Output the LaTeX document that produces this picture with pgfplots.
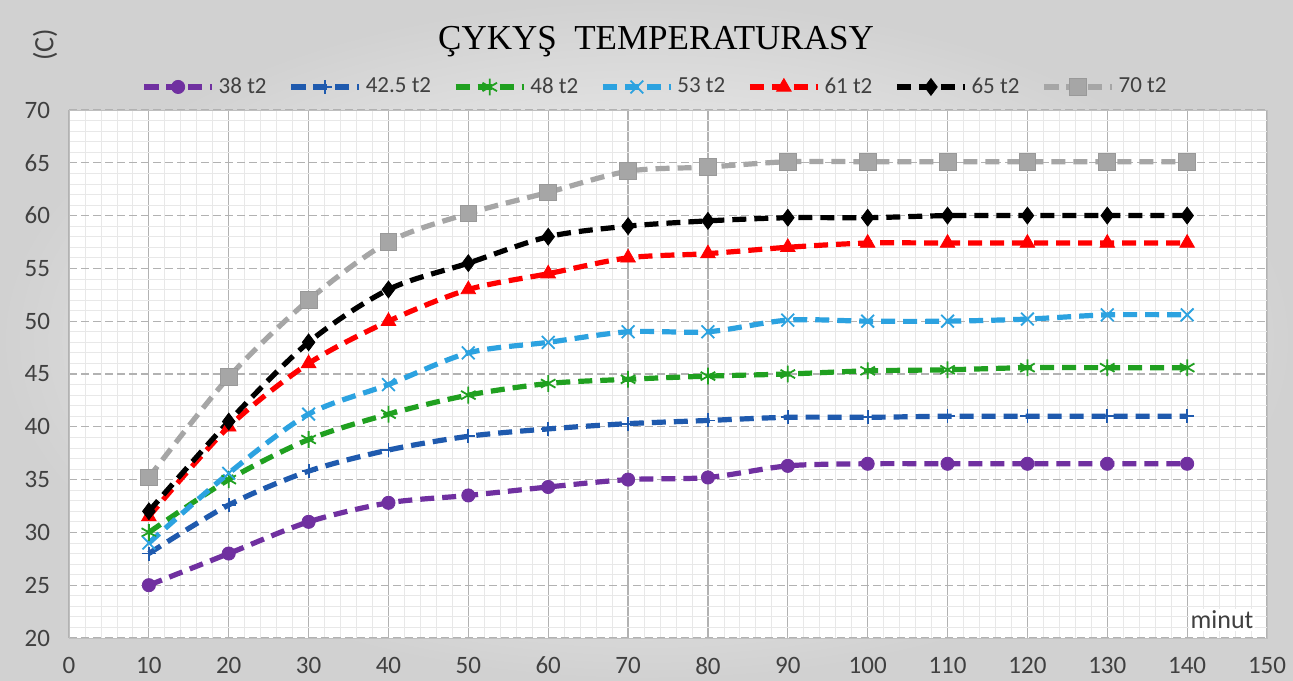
\documentclass[border=0pt]{standalone}
\usepackage{fontspec}
\setmainfont{Liberation Serif}
\setsansfont{Carlito}
\usepackage{pgfplots}
\pgfplotsset{compat=1.18}
\definecolor{cpurple}{HTML}{7030A0}
\definecolor{cblue}{HTML}{1F5AAE}
\definecolor{cgreen}{HTML}{20A020}
\definecolor{clblue}{HTML}{2CA2E0}
\definecolor{cred}{HTML}{FF0000}
\definecolor{cgray}{HTML}{A6A6A6}
\definecolor{ctxt}{HTML}{404040}
\begin{document}
\begin{tikzpicture}
\useasboundingbox (-34.5pt,-21pt) rectangle (612pt,319pt);
\shade[inner color=white, outer color=black!18] (-34.5pt,-21pt) rectangle (612pt,319pt);
\begin{axis}[
  scale only axis, width=599pt, height=264pt,
  xmin=0, xmax=150, ymin=20, ymax=70,
  xtick={0,10,...,150}, ytick={20,25,...,70},
  minor x tick num=4, minor y tick num=4,
  major tick length=0pt, minor tick length=0pt,
  axis background/.style={fill=white},
  axis line style={black!25},
  grid=both,
  major x grid style={black!30, line width=0.6pt},
  major y grid style={black!30, dash pattern=on 4pt off 2pt, line width=0.6pt},
  minor grid style={black!9, line width=0.4pt},
  ticklabel style={font=\sffamily\fontsize{12.5}{12.5}\selectfont, text=ctxt},
  /pgf/number format/assume math mode=true,
  xticklabel style={yshift=-6pt},
  yticklabel style={xshift=-6pt},
  every axis plot/.append style={smooth, tension=0.5, line width=2.6pt, dash pattern=on 7pt off 4pt},
  legend columns=7,
  legend style={at={(rel axis cs:0.49,1.01)}, anchor=south, draw=none, fill=none,
    font=\sffamily\fontsize{11.5}{11.5}\selectfont, text=ctxt,
    /tikz/every even column/.append style={column sep=9pt}},
  legend image code/.code={\draw[mark repeat=2,mark phase=2] plot coordinates {(0pt,0pt) (17pt,0pt) (34pt,0pt)};},
]
\addplot[cpurple, mark=*, mark size=3.3pt, mark options={solid, fill=cpurple, line width=0.4pt}] coordinates {
(10,25) (20,28) (30,31) (40,32.8) (50,33.5) (60,34.3) (70,35.0) (80,35.2) (90,36.3) (100,36.5) (110,36.5) (120,36.5) (130,36.5) (140,36.5)};
\addlegendentry{38 t2}
\addplot[cblue, mark=+, mark size=3.5pt, mark options={solid, line width=0.9pt}] coordinates {
(10,28) (20,32.6) (30,35.8) (40,37.8) (50,39.1) (60,39.8) (70,40.3) (80,40.6) (90,40.9) (100,40.9) (110,41.0) (120,41.0) (130,41.0) (140,41.0)};
\addlegendentry{42.5 t2}
\addplot[cgreen, mark=asterisk, mark size=4.2pt, mark options={solid, line width=0.9pt}] coordinates {
(10,30) (20,35) (30,38.8) (40,41.2) (50,43.0) (60,44.1) (70,44.5) (80,44.8) (90,45.0) (100,45.3) (110,45.4) (120,45.6) (130,45.6) (140,45.6)};
\addlegendentry{48 t2}
\addplot[clblue, mark=x, mark size=4.5pt, mark options={solid, line width=0.9pt}] coordinates {
(10,29) (20,35.6) (30,41.2) (40,44.0) (50,47.0) (60,48.0) (70,49.0) (80,49.0) (90,50.1) (100,50.0) (110,50.0) (120,50.2) (130,50.6) (140,50.6)};
\addlegendentry{53 t2}
\addplot[cred, mark=triangle*, mark size=4.2pt, mark options={solid, fill=cred, line width=0.4pt}] coordinates {
(10,31.5) (20,40) (30,46) (40,50) (50,53) (60,54.5) (70,56) (80,56.4) (90,57) (100,57.4) (110,57.4) (120,57.4) (130,57.4) (140,57.4)};
\addlegendentry{61 t2}
\addplot[black, mark=diamond*, mark size=4.2pt, mark options={solid, fill=black, line width=0.4pt}] coordinates {
(10,32) (20,40.5) (30,48) (40,53) (50,55.5) (60,58) (70,59) (80,59.5) (90,59.8) (100,59.8) (110,60) (120,60) (130,60) (140,60)};
\addlegendentry{65 t2}
\addplot[cgray, mark=square*, mark size=4.2pt, mark options={solid, fill=cgray, draw=black!40, line width=0.4pt}] coordinates {
(10,35.2) (20,44.7) (30,52) (40,57.5) (50,60.2) (60,62.2) (70,64.2) (80,64.6) (90,65.1) (100,65.1) (110,65.1) (120,65.1) (130,65.1) (140,65.1)};
\addlegendentry{70 t2}
\end{axis}
\node[font=\fontsize{17.5}{17.5}\selectfont] at (293.5pt,298pt) {ÇYKYŞ\ \ TEMPERATURASY};
\node[rotate=90, font=\sffamily\fontsize{14}{14}\selectfont, text=ctxt] at (-12pt,296.5pt) {(C)};
\node[font=\sffamily\fontsize{13}{13}\selectfont, text=ctxt, fill=white, inner sep=1pt] at (576.5pt,9pt) {minut};
\end{tikzpicture}
\end{document}
